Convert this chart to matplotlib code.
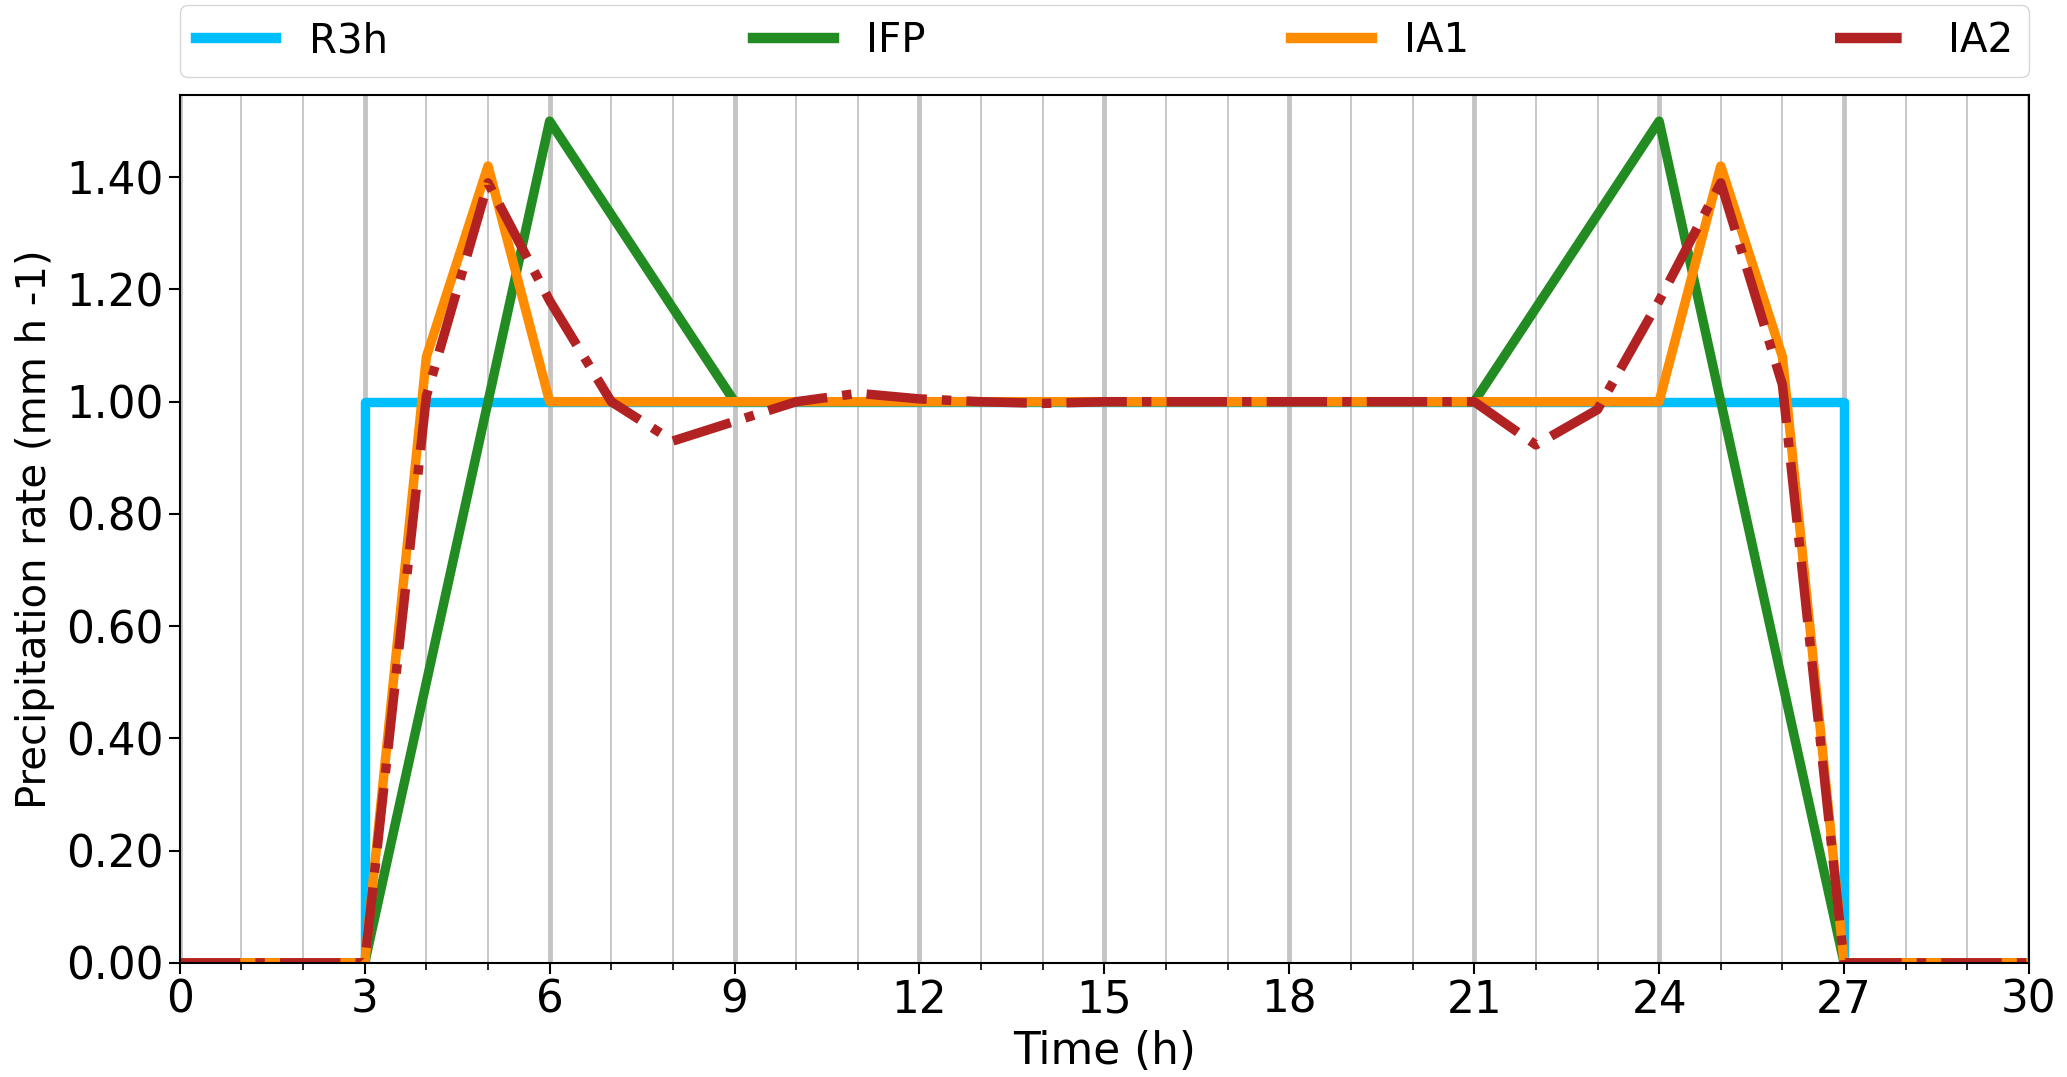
import matplotlib
matplotlib.use("Agg")
import matplotlib.pyplot as plt
from matplotlib.ticker import MultipleLocator, FormatStrFormatter

hours = list(range(0, 31))

r3h = [0, 0, 0] + [1.0] * 24 + [0, 0, 0, 0]

ifp_x = [0, 3, 6, 9, 21, 24, 27, 30]
ifp_y = [0, 0, 1.5, 1.0, 1.0, 1.5, 0, 0]

ia1 = [0, 0, 0, 0, 1.08, 1.42, 1.0, 1.0, 1.0, 1.0,
       1.0, 1.0, 1.0, 1.0, 1.0, 1.0, 1.0, 1.0, 1.0, 1.0,
       1.0, 1.0, 1.0, 1.0, 1.0, 1.42, 1.08, 0, 0, 0, 0]

ia2 = [0, 0, 0, 0, 1.01, 1.39, 1.18, 1.0, 0.93, 0.965,
       1.0, 1.015, 1.005, 1.0, 0.997, 1.0, 1.0, 1.0, 1.0, 1.0,
       1.0, 1.0, 0.923, 0.986, 1.18, 1.39, 1.03, 0, 0, 0, 0]

fig = plt.figure(figsize=(20.67, 10.77), dpi=100)
ax = fig.add_axes([0.087, 0.106, 0.8946, 0.806])

lw = 6.8
ax.plot(hours, r3h, color="deepskyblue", lw=lw, drawstyle="steps-post", label="R3h")
ax.plot(ifp_x, ifp_y, color="forestgreen", lw=lw, label="IFP")
ax.plot(hours, ia1, color="darkorange", lw=lw, label="IA1")
ax.plot(hours, ia2, color="firebrick", lw=lw, ls="-.", label="IA2")

ax.set_xlim(0, 30)
ax.set_ylim(0, 1.547)
ax.xaxis.set_major_locator(MultipleLocator(3))
ax.xaxis.set_minor_locator(MultipleLocator(1))
ax.yaxis.set_major_locator(MultipleLocator(0.2))
ax.yaxis.set_major_formatter(FormatStrFormatter("%.2f"))

ax.grid(True, which="major", axis="x", color="#c4c4c4", lw=3.5)
ax.grid(True, which="minor", axis="x", color="#c4c4c4", lw=1.3)
ax.set_axisbelow(True)

ax.tick_params(axis="both", which="major", labelsize=31.5, length=8, width=1.5)
ax.tick_params(axis="x", which="minor", length=5, width=1.2)
for s in ax.spines.values():
    s.set_linewidth(1.5)

ax.set_xlabel("Time (h)", fontsize=31.5, labelpad=6)
ax.set_ylabel("Precipitation rate (mm h -1)", fontsize=29, labelpad=8)

leg = ax.legend(loc="lower left", bbox_to_anchor=(0, 1.02, 1, 0.1), mode="expand",
                ncol=4, fontsize=29, borderaxespad=0, handlelength=2.0)
for line in leg.get_lines():
    line.set_linewidth(7.5)

fig.savefig("out.png", dpi=100)
